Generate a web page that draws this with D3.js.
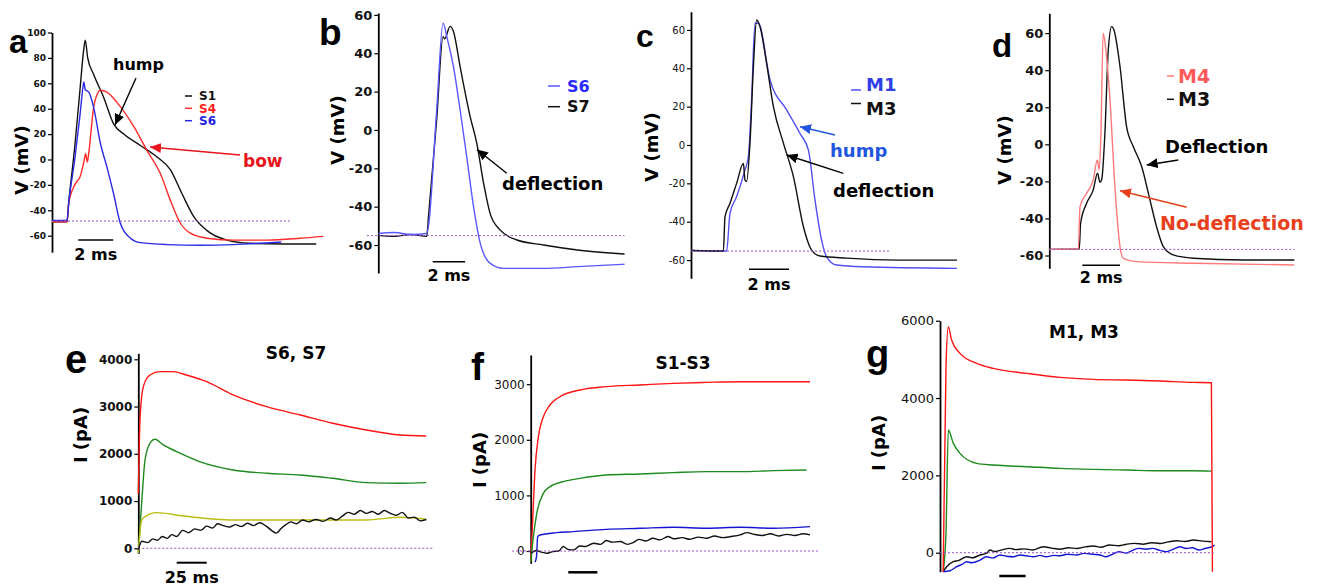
<!DOCTYPE html>
<html>
<head>
<meta charset="utf-8">
<style>
body { margin:0; background:#fff; }
svg { display:block; font-family:"DejaVu Sans", Verdana, sans-serif; }
.letter { font-family:"Liberation Sans", Arial, sans-serif; font-weight:bold; }
</style>
</head>
<body>
<svg width="1318" height="586"></svg>
<script src="https://d3js.org/d3.v7.min.js"></script>
<script>

// ---- panel a : V (mV) vs t (ms)
var aS1 = [[0,-49],[0.86,-49],[0.95,-35],[1.3,10],[1.6,55],[1.8,85],[1.9,94],[2.04,80],[2.38,67],[2.95,49],[3.52,28],[4.1,20],[5.05,11],[6,2],[6.76,-8],[7.43,-27],[8.1,-45],[8.86,-56],[10,-63.5],[11.3,-66],[13.2,-66.5],[15.1,-66.5]];
var aS4 = [[0,-49],[0.86,-49],[0.95,-35],[1.3,-20],[1.62,-13],[1.85,0],[1.92,4.5],[2.02,-2],[2.1,5],[2.38,41],[2.6,52],[2.76,54.5],[3.14,53],[3.71,45],[4.67,26],[5.43,7],[6.19,-11],[6.76,-32],[7.33,-50],[7.9,-58],[8.86,-62],[10.4,-63.5],[12.3,-63.5],[14.2,-62],[15.5,-60.5]];
var aS6 = [[0,-48],[0.86,-48],[0.95,-35],[1.3,0],[1.6,35],[1.78,58],[1.82,61],[1.9,55],[2.1,53],[2.38,41],[2.76,13],[3.14,-6],[3.52,-27],[3.9,-50],[4.48,-62],[5.05,-65.5],[6.57,-67],[8.5,-67.5],[10.4,-67],[13.1,-65]];
var aTicks = [-60,-40,-20,0,20,40,60,80,100];
var aLegend = ['S1','S4','S6'];

// ---- panel b
var bS6 = [[0,-54],[1,-53.5],[2,-54.5],[2.99,-54],[3.1,-50],[3.6,10],[4.0,55.7],[4.23,48.7],[4.64,33],[5.05,10.4],[5.46,-14],[5.88,-40],[6.29,-59],[6.91,-69.6],[7.73,-72.2],[10.2,-72.2],[12.3,-71.3],[15.2,-70]];
var bS7 = [[0,-55],[1,-55.5],[2,-54.5],[2.99,-55.5],[3.1,-45],[3.6,5],[4.0,48.7],[4.1,47.5],[4.43,54],[4.64,51.3],[5.05,33],[5.67,7],[6.08,-7],[6.5,-27.8],[6.9,-43.5],[7.5,-52],[8.56,-57.4],[10.2,-60],[12.3,-62.6],[15.2,-64.7]];
var bTicks = [-60,-40,-20,0,20,40,60];
var bLegend = ['S6','S7'];

// ---- panel c
var cM1 = [[0,-55],[1.78,-55.3],[1.95,-35.6],[2.28,-27],[2.7,-13],[2.87,-6],[3.03,23.5],[3.2,63.5],[3.37,63.5],[3.95,34],[4.78,18.3],[5.45,6],[5.87,-2.6],[6.2,-28.7],[6.53,-49.6],[6.78,-58.3],[7.28,-62.6],[8.6,-63.5],[13.3,-64.3]];
var cM3 = [[0,-55],[1.62,-55.3],[1.7,-37.4],[1.95,-30.4],[2.28,-20],[2.62,-9.6],[2.7,-18.3],[2.78,-19],[2.95,1],[3.12,41],[3.28,65.2],[3.45,61.7],[3.78,42.6],[4.12,20],[4.62,1],[5.12,-16.5],[5.62,-42.6],[6.03,-54.8],[6.45,-57.9],[7.78,-59],[10.3,-60],[13.3,-60]];
var cTicks = [-60,-40,-20,0,20,40,60];
var cLegend = ['M1','M3'];

// ---- panel d
var dM4 = [[0,-56.7],[1.54,-56.5],[1.63,-33.6],[1.98,-26.4],[2.33,-19.2],[2.55,-8.5],[2.65,-13.8],[2.74,6],[2.86,60],[3.0,51],[3.22,24],[3.48,-22.8],[3.75,-55.2],[3.93,-61.5],[4.63,-63.3],[7.64,-64.2],[13,-65.1]];
var dM3 = [[0,-56.7],[1.59,-56.5],[1.66,-42.6],[1.98,-31.8],[2.33,-24.6],[2.56,-15.6],[2.69,-20.5],[2.78,-19],[2.95,6],[3.13,51],[3.31,63.5],[3.43,61.7],[3.75,42],[4.1,9.5],[4.46,-1.3],[4.9,-12],[5.34,-30],[5.69,-44.4],[6.05,-55.2],[6.58,-59.7],[7.64,-61.5],[10.3,-62.4],[13,-62.4]];
var dTicks = [-60,-40,-20,0,20,40,60];
var dLegend = ['M4','M3'];

// ---- panel e : I (pA) vs t (ms)
var eRed = [[0,1150],[1.4,2716],[4.2,3422],[9.7,3668],[18,3739],[29,3739],[40,3668],[57,3527],[79,3245],[107,2998],[135,2822],[162,2646],[190,2504],[218,2399],[240,2377]];
var eGreen = [[0,-100],[2.8,952],[5.6,1870],[9.7,2222],[13.9,2307],[20.8,2187],[32,2046],[51,1834],[79,1658],[107,1587],[135,1552],[162,1481],[190,1390],[218,1376],[240,1390]];
var eYellow = [[0,-100],[2.8,600],[5.6,670],[15,755],[37.5,684],[79,600],[135,600],[190,600],[218,656],[240,614]];
var eBlack = [[0,-30],[3,150],[8,120],[12,200],[16,170],[20,250],[24,210],[28,290],[32,250],[37,380],[42,330],[47,410],[52,380],[57,470],[62,430],[66,520],[71,480],[76,450],[81,500],[86,460],[91,530],[96,480],[101,540],[106,480],[111,380],[115,320],[119,420],[123,500],[127,560],[132,520],[137,600],[142,560],[148,610],[154,570],[160,640],[165,600],[170,680],[175,760],[180,720],[185,800],[190,740],[195,780],[200,720],[205,800],[210,740],[215,700],[220,760],[225,640],[230,660],[235,580],[240,610]];
var eTicks = [0,1000,2000,3000,4000];

// ---- panel f
var fRed = [[0,-200],[1.7,558],[3.7,1457],[6.6,2056],[10.9,2416],[16.6,2626],[28,2806],[42.4,2896],[65,2956],[94,2986],[122.6,3015],[151,3033],[180,3045],[208.6,3045],[240,3045]];
var fGreen = [[0,-200],[2.3,258],[5.2,677],[10.9,1037],[16.6,1157],[28,1247],[42.4,1307],[65,1367],[94,1385],[122.6,1409],[151,1427],[180,1427],[208.6,1445],[237,1457]];
var fBlue = [[3.7,-200],[5.0,-100],[6.0,258],[8,288],[22.3,330],[36.7,348],[65,390],[94,408],[122.6,426],[151,410],[180,426],[208.6,410],[240,438]];
var fBlack = [[0,-40],[5,10],[9,-20],[14,-40],[19,-10],[24,0],[28,80],[32,30],[37,20],[42,90],[47,80],[54,140],[60,120],[65,190],[70,160],[77,170],[83,120],[88,150],[93,210],[99,180],[105,230],[111,200],[118,260],[123,220],[130,240],[137,210],[144,250],[151,230],[158,270],[165,240],[172,260],[180,290],[186,330],[192,300],[199,280],[206,310],[213,270],[220,300],[227,280],[234,310],[240,290]];
var fTicks = [0,1000,2000,3000];

// ---- panel g
var gRed = [[3,-491],[5.7,4810],[7.9,5844],[11,5500],[19,5155],[34.9,4896],[50.7,4767],[82.4,4638],[114,4534],[145.8,4482],[177.4,4465],[209,4439],[240.8,4405],[258,4396],[259,-491]];
var gGreen = [[3,-491],[5.7,500],[7.9,3172],[12.7,2827],[19,2569],[34.9,2310],[50.7,2267],[82.4,2224],[114,2181],[145.8,2155],[177.4,2138],[209,2120],[240.8,2120],[258,2110]];
var gBlack = [[3,-491],[6.3,-362],[12.7,-233],[18,-200],[25.3,-103],[31,-130],[38,-60],[44,-20],[47.5,69],[52,30],[57,60],[66.5,112],[72,80],[80,100],[88,70],[98,155],[106,120],[114,90],[122,130],[130,110],[138,150],[145.8,172],[153,140],[161,198],[170,180],[177.4,220],[185,241],[193,220],[201,259],[209,240],[217,280],[225,310],[233,290],[240.8,328],[250,300],[258,284]];
var gBlue = [[3,-491],[9.5,-466],[15.8,-362],[21,-300],[25.3,-233],[30,-260],[38,-190],[44,-103],[50,-140],[57,-60],[63,-90],[70,-103],[76,-60],[82,-80],[89,-103],[95,-70],[101,-103],[108,-70],[114,-80],[121,-40],[130,-60],[137,-17],[145.8,-40],[152,-60],[158,-103],[164,-40],[170,26],[177,-10],[183,60],[189,112],[196,90],[202,112],[209,60],[215,26],[221,80],[228,155],[234,110],[240,130],[246,69],[252,110],[258,150],[261,198]];
var gTicks = [0,2000,4000,6000];

var RED = '#ff1414', GREEN = '#1e8a1e', BLUE = '#1414d2', BLACK = '#111', YELLOW = '#bcbc14';

var svg = d3.select('svg');
var defs = svg.append('defs');
[['k','#000'],['r','#e8141c'],['b','#2255e0'],['o','#e8401c']].forEach(function(m){
  defs.append('marker').attr('id','arr-'+m[0])
    .attr('markerUnits','userSpaceOnUse')
    .attr('markerWidth',12).attr('markerHeight',10)
    .attr('refX',11).attr('refY',5).attr('orient','auto')
    .append('path').attr('d','M0,0 L11,5 L0,10 Z').attr('fill',m[1]);
});

function panel(p) {
  var x = d3.scaleLinear().domain(p.xDomain).range(p.xRange);
  var y = d3.scaleLinear().domain(p.yDomain).range(p.yRange);
  var g = svg.append('g');

  var ax = g.append('g')
    .attr('transform','translate('+p.xRange[0]+',0)')
    .call(d3.axisLeft(y).tickValues(p.ticks).tickSize(4).tickSizeOuter(0).tickPadding(2)
      .tickFormat(function(d){ return String(d); }));
  ax.attr('font-family',null);
  ax.select('.domain').attr('stroke','#000').attr('stroke-width',1.8);
  ax.selectAll('.tick line').attr('stroke','#000').attr('stroke-width',1.2);
  ax.selectAll('.tick text')
    .attr('fill','#111')
    .style('font-size',p.tickFont+'px')
    .style('font-weight',p.tickWeight);

  var line = d3.line()
    .x(function(d){ return x(d[0]); })
    .y(function(d){ return y(d[1]); })
    .curve(d3.curveMonotoneX);

  p.series.forEach(function(s){
    g.append('path').datum(s.data)
      .attr('d',line)
      .attr('fill','none')
      .attr('stroke',s.color)
      .attr('stroke-width',s.w || 1.4)
      .attr('stroke-linejoin','round');
  });

  // resting-level dotted line
  g.append('line')
    .attr('x1',x(p.base[0])).attr('x2',x(p.base[1]))
    .attr('y1',y(p.base[2])).attr('y2',y(p.base[2]))
    .attr('stroke','#9a4fc8').attr('stroke-width',1)
    .attr('stroke-dasharray','2,2');

  // time scale bar
  g.append('line')
    .attr('x1',x(p.bar[0])).attr('x2',x(p.bar[0]+p.bar[1]))
    .attr('y1',p.bar[2]).attr('y2',p.bar[2])
    .attr('stroke','#000').attr('stroke-width',p.bar[3]);
  if (p.barLabel) {
    g.append('text')
      .attr('x',x(p.bar[0]+p.bar[1]/2)).attr('y',p.barLabel[1])
      .attr('text-anchor','middle')
      .style('font-size','16px').style('font-weight','bold')
      .text(p.barLabel[0]);
  }

  // y label
  g.append('text')
    .attr('transform','translate('+p.yLabel[1]+','+p.yLabel[2]+') rotate(-90)')
    .attr('text-anchor','middle').attr('dy','0.35em')
    .style('font-size','18px').style('font-weight','bold')
    .text(p.yLabel[0]);

  // panel letter
  g.append('text').attr('class','letter')
    .attr('x',p.letter[1]).attr('y',p.letter[2])
    .style('font-size',p.letter[3]+'px')
    .text(p.letter[0]);

  if (p.title) {
    g.append('text')
      .attr('x',p.title[1]).attr('y',p.title[2])
      .attr('text-anchor','middle')
      .style('font-size','17px').style('font-weight','bold')
      .text(p.title[0]);
  }

  if (p.legend) {
    var L = p.legend;
    L.names.forEach(function(n,i){
      var yy = L.y[i];
      g.append('line')
        .attr('x1',L.x0).attr('x2',L.x1).attr('y1',yy).attr('y2',yy)
        .attr('stroke',L.colors[i]).attr('stroke-width',1.5);
      var t = g.append('text')
        .attr('x',L.tx)
        .attr('fill',L.textColors[i])
        .style('font-size',L.size+'px').style('font-weight','bold')
        .text(n);
      if (L.ty) t.attr('y',L.ty[i]);
      else t.attr('y',yy).attr('dy','0.36em');
    });
  }

  (p.notes || []).forEach(function(n){
    g.append('text')
      .attr('x',n.x).attr('y',n.y)
      .attr('fill',n.color)
      .style('font-size',n.size+'px').style('font-weight','bold')
      .text(n.text);
    g.append('line')
      .attr('x1',n.a[0]).attr('y1',n.a[1]).attr('x2',n.a[2]).attr('y2',n.a[3])
      .attr('stroke',n.color).attr('stroke-width',1.4)
      .attr('marker-end','url(#arr-'+n.m+')');
  });
}

panel({
  xDomain:[0,15.5], xRange:[52,323.25],
  yDomain:[-73,100], yRange:[252.2,32.5],
  ticks:aTicks, tickFont:9, tickWeight:'bold',
  series:[{data:aS1,color:BLACK},{data:aS4,color:'#ff2a2a'},{data:aS6,color:'#2a2ae6'}],
  base:[0,13.7,-48.5],
  bar:[1.5,2,240,1.5], barLabel:['2 ms',260],
  yLabel:['V (mV)',22,160],
  letter:['a',9,53,33],
  legend:{names:aLegend,x0:185,x1:192,tx:199,y:[96,108.3,120.7],size:12,
    colors:[BLACK,'#ff2a2a','#2a2ae6'],textColors:[BLACK,'#ff1a1a','#2222dd']},
  notes:[
    {text:'hump',x:113,y:70,size:16,color:'#000',m:'k',a:[136,78,115,125]},
    {text:'bow',x:243,y:167,size:17,color:'#e8141c',m:'r',a:[240,155,150,147]}
  ]
});

panel({
  xDomain:[0,15.25], xRange:[378.3,625.35],
  yDomain:[-74.6,61], yRange:[273,13],
  ticks:bTicks, tickFont:13, tickWeight:'bold',
  series:[{data:bS7,color:BLACK},{data:bS6,color:'#5858ff'}],
  base:[-0.7,15.2,-55.1],
  bar:[3.36,2,261.7,1.5], barLabel:['2 ms',281],
  yLabel:['V (mV)',338,130],
  letter:['b',319,45,37],
  legend:{names:bLegend,x0:548,x1:560,tx:567,y:[86,106.7],size:16,
    colors:['#5858ff',BLACK],textColors:['#2a2aff',BLACK]},
  notes:[
    {text:'deflection',x:502,y:190,size:18,color:'#000',m:'k',a:[506.7,173.3,477,149.5]}
  ]
});

panel({
  xDomain:[0,13.3], xRange:[691,957],
  yDomain:[-69.5,69.5], yRange:[278.3,11.7],
  ticks:cTicks, tickFont:10, tickWeight:'normal',
  series:[{data:cM1,color:'#5050f0'},{data:cM3,color:BLACK}],
  base:[0,10,-55.3],
  bar:[2.9,2,269.3,1.5], barLabel:['2 ms',290],
  yLabel:['V (mV)',652,147],
  letter:['c',636,47,32],
  legend:{names:cLegend,x0:851,x1:861,tx:866,y:[90,103.5],ty:[90.7,115],size:18,
    colors:['#5050f0',BLACK],textColors:['#3040e6',BLACK]},
  notes:[
    {text:'hump',x:830,y:157,size:18,color:'#2255e0',m:'b',a:[835,135,800,126.7]},
    {text:'deflection',x:833,y:197,size:18,color:'#000',m:'k',a:[843.3,173.3,786.7,155]}
  ]
});

panel({
  xDomain:[0,13.03], xRange:[1049.3,1294.9],
  yDomain:[-66.9,70.7], yRange:[268.3,13.3],
  ticks:dTicks, tickFont:13, tickWeight:'bold',
  series:[{data:dM3,color:BLACK},{data:dM4,color:'#ff7a7a'}],
  base:[0,13,-56.7],
  bar:[1.75,2,265.3,1.5], barLabel:['2 ms',283],
  yLabel:['V (mV)',1005,150],
  letter:['d',992,57,33],
  legend:{names:dLegend,x0:1167,x1:1174,tx:1178,y:[76,99.3],size:19,
    colors:['#ff7a7a',BLACK],textColors:['#ff5a5a',BLACK]},
  notes:[
    {text:'Deflection',x:1165,y:153,size:18,color:'#000',m:'k',a:[1178.3,160,1146.7,165]},
    {text:'No-deflection',x:1160,y:230,size:19,color:'#e8401c',m:'o',a:[1186.7,207.3,1120,190.7]}
  ]
});

panel({
  xDomain:[0,240], xRange:[138.3,426.3],
  yDomain:[-106,4127], yRange:[553.3,353.3],
  ticks:eTicks, tickFont:12, tickWeight:'bold',
  series:[{data:eRed,color:RED},{data:eGreen,color:GREEN},{data:eYellow,color:YELLOW},{data:eBlack,color:BLACK}],
  base:[0,245,0],
  bar:[32,25,562.7,2], barLabel:['25 ms',583],
  yLabel:['I (pA)',81,435],
  letter:['e',65,373,40],
  title:['S6, S7',296,359]
});

panel({
  xDomain:[0,240], xRange:[530.7,810],
  yDomain:[-221,3525], yRange:[563.3,355],
  ticks:fTicks, tickFont:12, tickWeight:'normal',
  series:[{data:fRed,color:RED},{data:fGreen,color:GREEN},{data:fBlue,color:BLUE},{data:fBlack,color:BLACK}],
  base:[-16,248,0],
  bar:[32.3,25,572.3,2.5],
  yLabel:['I (pA)',480,460],
  letter:['f',471,380,39],
  title:['S1-S3',683,369]
});

panel({
  xDomain:[0,260], xRange:[940,1213.5],
  yDomain:[-491,6000], yRange:[571.7,320.7],
  ticks:gTicks, tickFont:13, tickWeight:'normal',
  series:[{data:gGreen,color:GREEN},{data:gBlack,color:BLACK},{data:gBlue,color:BLUE},{data:gRed,color:RED}],
  base:[0,260,0],
  bar:[56.4,25,576,2.5],
  yLabel:['I (pA)',879,443],
  letter:['g',866,367,38],
  title:['M1, M3',1084,338]
});

</script>
</body>
</html>
